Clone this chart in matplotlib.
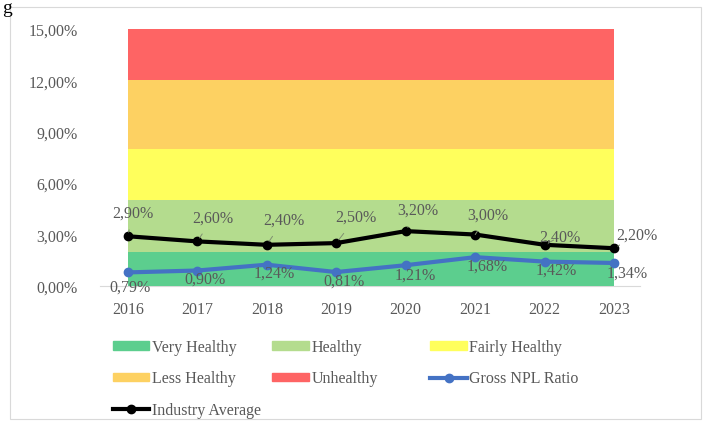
import numpy as np
import matplotlib.pyplot as plt
from matplotlib.patches import Patch, Rectangle
from matplotlib.lines import Line2D

plt.rcParams['font.family'] = ['Liberation Serif', 'DejaVu Serif']

years = ["2016", "2017", "2018", "2019", "2020", "2021", "2022", "2023"]
npl = [0.79, 0.90, 1.24, 0.81, 1.21, 1.68, 1.42, 1.34]
industry = [2.90, 2.60, 2.40, 2.50, 3.20, 3.00, 2.40, 2.20]

# band thickness (in %), stacked from 0
band_names = ["Very Healthy", "Healthy", "Fairly Healthy", "Less Healthy", "Unhealthy"]
band_sizes = [2, 3, 3, 4, 3]
band_colors = ["#5cce8e", "#b4dc8e", "#ffff5c", "#fdd162", "#fe6464"]

grey = "#595959"
fs = 11.5

fig = plt.figure(figsize=(7.04, 4.27), dpi=100)
ax = fig.add_axes([0.142, 0.328, 0.767, 0.602])

x = np.arange(len(years))
ax.stackplot(x, *[[s] * len(x) for s in band_sizes], colors=band_colors, zorder=1)

ax.plot(x, npl, color="#4472c4", lw=3, marker="o", ms=6, zorder=3)
ax.plot(x, industry, color="black", lw=3, marker="o", ms=6, zorder=4)

def pct(v):
    return ("%.2f%%" % v).replace(".", ",")

# label offsets in pixels (dx, dy up)
ind_off = [(5, 24), (16, 24), (17, 25), (20, 26), (12, 21), (13, 20), (15, 8), (23, 14)]
for i, v in enumerate(industry):
    dx, dy = ind_off[i]
    ax.annotate(pct(v), (x[i], v), xytext=(dx * 0.72, dy * 0.72), textcoords="offset points",
                ha="center", va="center", fontsize=fs, color=grey, zorder=5,
                arrowprops=dict(arrowstyle="-", color="#7f8f70", lw=0.7,
                                shrinkA=5, shrinkB=3))

npl_off = [(2, -14), (8, -8), (8, -8), (8, -9), (10, -9), (12, -8), (12, -8), (13, -10)]
for i, v in enumerate(npl):
    dx, dy = npl_off[i]
    ax.annotate(pct(v), (x[i], v), xytext=(dx * 0.72, dy * 0.72), textcoords="offset points",
                ha="center", va="center", fontsize=fs, color=grey, zorder=5)

ax.set_xlim(-0.4, 7.37)
ax.set_ylim(0, 15)
ax.set_xticks(x)
ax.set_xticklabels(years)
ax.set_yticks([0, 3, 6, 9, 12, 15])
ax.set_yticklabels([pct(v) for v in [0, 3, 6, 9, 12, 15]])
ax.tick_params(length=0, labelsize=fs, colors=grey)
ax.tick_params(axis="x", pad=11)
ax.tick_params(axis="y", pad=16)
for s in ["top", "right", "left"]:
    ax.spines[s].set_visible(False)
ax.spines["bottom"].set_color("#d9d9d9")
ax.spines["bottom"].set_zorder(0)

h = [Patch(color=c) for c in band_colors]
h_npl = Line2D([], [], color="#4472c4", lw=3, marker="o", ms=6)
h_ind = Line2D([], [], color="black", lw=3, marker="o", ms=6)
cols = [
    ([h[0], h[3], h_ind], [band_names[0], band_names[3], "Industry Average"], 0.160),
    ([h[1], h[4]], [band_names[1], band_names[4]], 0.387),
    ([h[2], h_npl], [band_names[2], "Gross NPL Ratio"], 0.611),
]
for hs, ls, xpos in cols:
    leg = fig.legend(hs, ls, loc="upper left", bbox_to_anchor=(xpos, 0.203),
                     frameon=False, fontsize=fs, handlelength=2.3, handleheight=0.45,
                     handletextpad=0.15, labelspacing=0.95, borderaxespad=0,
                     borderpad=0)
    for t in leg.get_texts():
        t.set_color(grey)

fig.patches.append(Rectangle((0.014, 0.016), 0.982, 0.966, transform=fig.transFigure,
                             fill=False, edgecolor="#d9d9d9", lw=0.8))
fig.text(0.003, 1.0, "g", fontsize=14, color="black", va="top")

fig.savefig("out.png", dpi=100)
